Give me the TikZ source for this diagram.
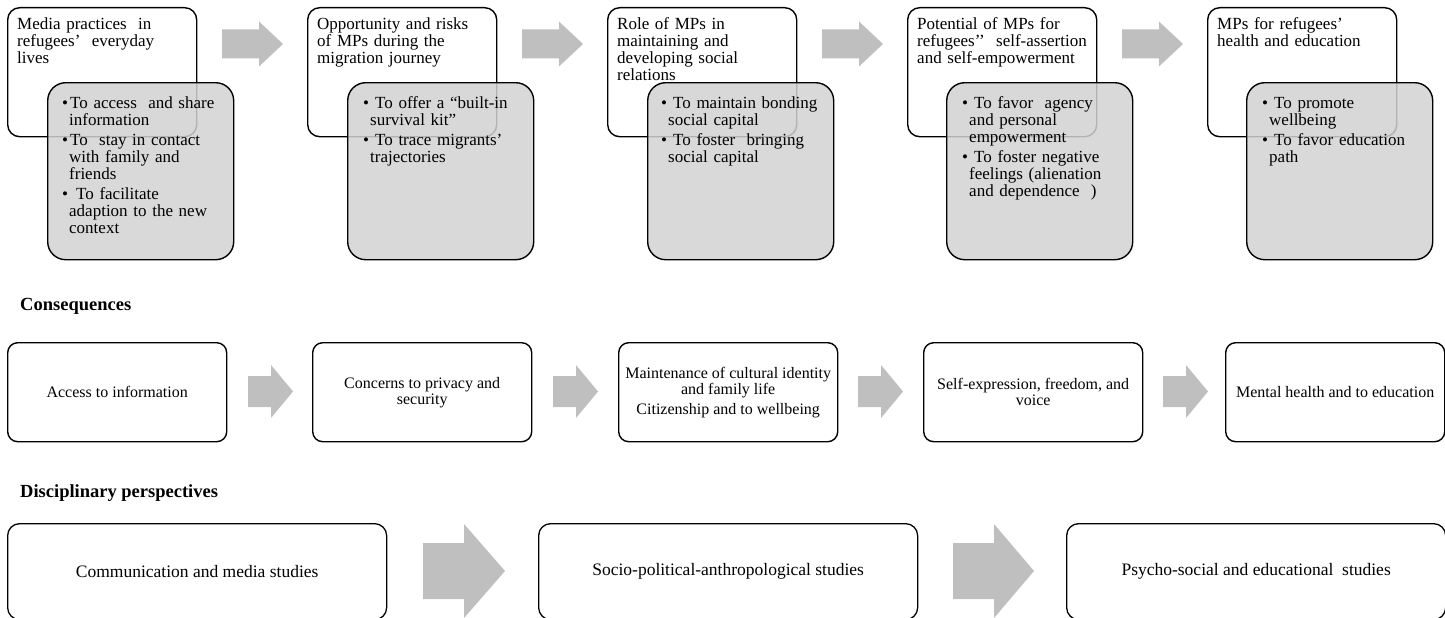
\documentclass[tikz,border=0pt]{standalone}
\usepackage{fontspec}
\setmainfont{Liberation Serif}
\definecolor{arrowgray}{HTML}{BFBFBF}
\definecolor{boxgray}{HTML}{D2D2D2}
\newcommand{\bitem}[2][6pt]{\noindent\hangindent=7pt\hangafter=1\textbullet\hspace*{#1}#2\par}
\newcommand{\bsep}{\vspace{3pt}}
\newcommand{\barrow}[6]{\fill[arrowgray] (#1,#4-#5) -- (#2,#4-#5) -- (#2,#4-#6) -- (#3,#4) -- (#2,#4+#6) -- (#2,#4+#5) -- (#1,#4+#5) -- cycle;}
\begin{document}
\begin{tikzpicture}[x=1pt,y=-1pt,
  wbox/.style={draw=black, line width=1.4pt, rounded corners=12pt, fill=white, anchor=north west, minimum width=189pt, minimum height=129pt, inner sep=0pt},
  gbox/.style={draw=black, line width=1.4pt, rounded corners=18pt, fill=boxgray, fill opacity=0.85, anchor=north west, minimum width=186pt, minimum height=177pt, inner sep=0pt},
  wtext/.style={anchor=base west, inner sep=0pt, text width=220pt, align=left, font=\fontsize{17pt}{17pt}\selectfont},
  gtext/.style={anchor=base west, inner sep=0pt, text width=220pt, align=left, font=\fontsize{17pt}{17pt}\selectfont},
  cbox/.style={draw=black, line width=1.4pt, rounded corners=10pt, fill=white, anchor=north west, minimum width=219pt, minimum height=99pt, inner sep=0pt, align=center, font=\fontsize{16pt}{16pt}\selectfont},
  dbox/.style={draw=black, line width=1.3pt, rounded corners=12pt, fill=white, anchor=north west, minimum width=379pt, minimum height=96pt, inner sep=0pt, align=center, font=\fontsize{17.5pt}{17.5pt}\selectfont},
  heading/.style={anchor=base west, inner sep=0pt, font=\fontsize{18.5pt}{18.5pt}\selectfont\bfseries}
]
\useasboundingbox (0,0) rectangle (1445,618);

% ---------- top row: white boxes ----------
\node[wbox] (w1) at (7,7) {};
\node[wbox] (w2) at (307,7) {};
\node[wbox] (w3) at (607,7) {};
\node[wbox] (w4) at (907,7) {};
\node[wbox] (w5) at (1207,7) {};

\node[wtext] (wt1) at (17,30) {Media practices\ \ in\newline refugees’\ \ everyday\newline lives};
\node[wtext] (wt2) at (317,30) {Opportunity and risks\newline of MPs during the\newline migration journey};
\node[wtext] (wt3) at (617,30) {Role of MPs in\newline maintaining and\newline developing social\newline relations};
\node[wtext] (wt4) at (917,30) {Potential of MPs for\newline refugees’’\ \ self-assertion\newline and self-empowerment};
\node[wtext] (wt5) at (1217,30) {MPs for refugees’\newline health and education};

% ---------- top row: gray boxes ----------
\node[gbox] (g1) at (47,82) {};
\node[gbox] (g2) at (347,82) {};
\node[gbox] (g3) at (647,82) {};
\node[gbox] (g4) at (946,82) {};
\node[gbox] (g5) at (1246,82) {};

\node[gtext] (gt1) at (62,108) {\bitem[2pt]{To access\ \ and share\newline information}\bsep\bitem[2pt]{To\ \ stay in contact\newline with family and\newline friends}\bsep\bitem[8pt]{To facilitate\newline adaption to the new\newline context}};
\node[gtext] (gt2) at (363,108) {\bitem{To offer a “built-in\newline survival kit”}\bsep\bitem{To trace migrants’\newline trajectories}};
\node[gtext] (gt3) at (661,108) {\bitem{To maintain bonding\newline social capital}\bsep\bitem{To foster\ \ bringing\newline social capital}};
\node[gtext] (gt4) at (962,108) {\bitem{To favor\ \ agency\newline and personal\newline empowerment}\bsep\bitem{To foster negative\newline feelings (alienation\newline and dependence\ \ )}};
\node[gtext] (gt5) at (1262,108) {\bitem{To promote\newline wellbeing}\bsep\bitem{To favor education\newline path}};

% top arrows
\barrow{222}{259}{283}{44}{14.5}{22.5}
\barrow{522}{559}{583}{44}{14.5}{22.5}
\barrow{822}{859}{883}{44}{14.5}{22.5}
\barrow{1122}{1159}{1183}{44}{14.5}{22.5}

% ---------- Consequences ----------
\node[heading] (h1) at (20,310) {Consequences};

\node[cbox] (c1) at (7,342) {Access to information};
\node[cbox] (c2) at (312,342) {Concerns to privacy and\\security};
\node[cbox] (c3) at (618,342) {Maintenance of cultural identity\\and family life\\[4pt]Citizenship and to wellbeing};
\node[cbox] (c4) at (923,342) {Self-expression, freedom, and\\voice};
\node[cbox] (c5) at (1225,342) {Mental health and to education};

\barrow{248}{271}{293}{391.5}{15.5}{26.5}
\barrow{553}{576}{598}{391.5}{15.5}{26.5}
\barrow{858}{881}{903}{391.5}{15.5}{26.5}
\barrow{1163}{1186}{1208}{391.5}{15.5}{26.5}

% ---------- Disciplinary perspectives ----------
\node[heading] (h2) at (20,497) {Disciplinary perspectives};

\node[dbox] (d1) at (7,523) {Communication and media studies};
\node[dbox] (d2) at (538,523) {Socio-political-anthropological studies};
\node[dbox] (d3) at (1066,523) {Psycho-social and educational\ \ studies};

\barrow{423}{464}{505}{571}{28}{47}
\barrow{953}{994}{1034}{571}{28}{47}
\end{tikzpicture}
\end{document}
